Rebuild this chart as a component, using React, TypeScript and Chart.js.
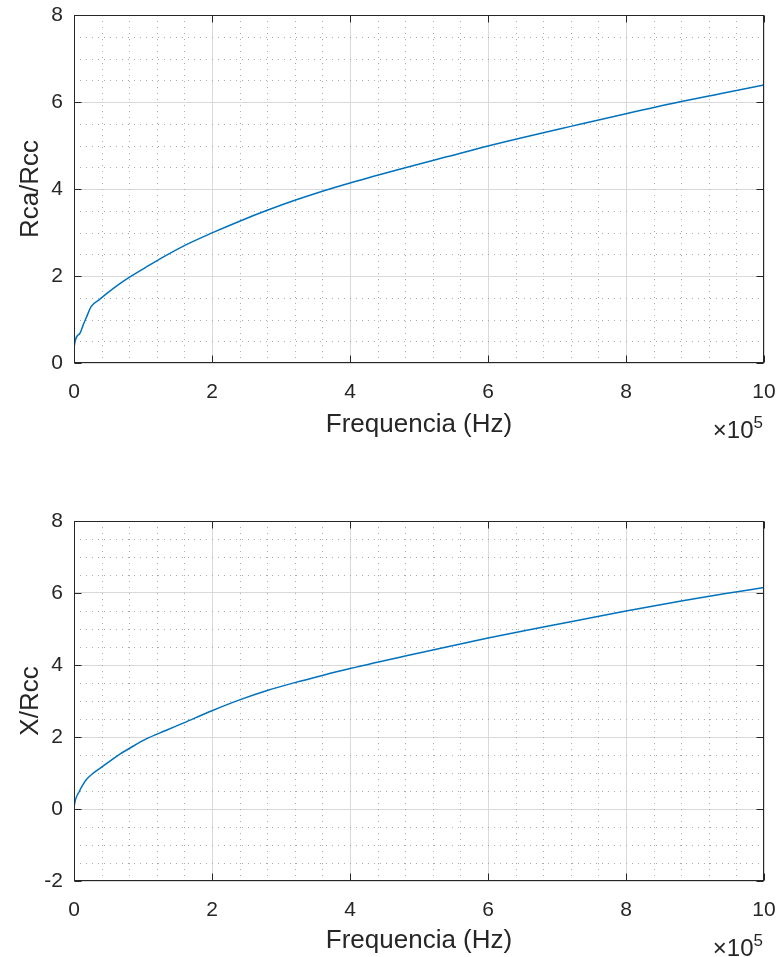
import React, { useEffect, useRef } from "react";
import { Chart, registerables } from "chart.js";

Chart.register(...registerables);

// ---------- data ----------
const FREQ_HZ = [
  0, 500, 8000, 13000, 18000, 25000, 37000, 50000, 66000, 80000, 104000,
  133000, 160000, 200000, 240000, 280000, 320000, 360000, 400000, 480000,
  540000, 600000, 660000, 720000, 800000, 880000, 940000, 1000000,
];
const RCA_RCC = [
  0.15, 0.4, 0.67, 0.86, 1.05, 1.3, 1.46, 1.63, 1.82, 1.97, 2.2, 2.47, 2.7,
  2.99, 3.26, 3.51, 3.74, 3.95, 4.14, 4.49, 4.74, 4.99, 5.22, 5.44, 5.73,
  6.01, 6.2, 6.39,
];
const X_RCC = [
  0, 0.1, 0.5, 0.68, 0.82, 0.95, 1.12, 1.3, 1.52, 1.68, 1.94, 2.18, 2.4, 2.73,
  3.03, 3.29, 3.51, 3.71, 3.9, 4.25, 4.5, 4.75, 4.98, 5.2, 5.5, 5.78, 5.97,
  6.15,
];

const X_LABEL = "Frequencia (Hz)";
const X_EXPONENT = "5";
const X_RANGE = [0, 1000000];
const X_MAJOR = 200000;
const X_MINOR = 40000;

const Y1_LABEL = "Rca/Rcc";
const Y1_RANGE = [0, 8];
const Y2_LABEL = "X/Rcc";
const Y2_RANGE = [-2, 8];
const Y_MAJOR = 2;
const Y_MINOR = 0.5;

// ---------- style ----------
const FONT = '"Liberation Sans", Arial, Helvetica, sans-serif';
const TEXT_COLOR = "#262626";
const AXIS_COLOR = "#262626";
const MAJOR_GRID = "#d9d9d9";
const MINOR_GRID = "#ababab";
const LINE_COLOR = "#0072BD";
const PAGE_W = 780;
const AREA_LEFT = 74;
const AREA_RIGHT = 764;
const TICK_FONT = 21;
const TITLE_FONT = 26;

const matlabAxes = {
  id: "matlabAxes",
  beforeDatasetsDraw(chart: any, _args: any, opts: any) {
    const { ctx, chartArea: a } = chart;
    const x = chart.scales.x;
    const y = chart.scales.y;
    ctx.save();
    ctx.beginPath();
    ctx.rect(a.left, a.top, a.right - a.left, a.bottom - a.top);
    ctx.clip();
    ctx.strokeStyle = MINOR_GRID;
    ctx.lineWidth = 1;
    ctx.setLineDash([1, 5]);
    const nx = Math.round((x.max - x.min) / opts.xMinor);
    const rx = Math.round(opts.xMajor / opts.xMinor);
    for (let i = 0; i <= nx; i++) {
      if (i % rx === 0) continue;
      const px = Math.round(x.getPixelForValue(x.min + i * opts.xMinor)) + 0.5;
      ctx.beginPath();
      ctx.moveTo(px, a.top);
      ctx.lineTo(px, a.bottom);
      ctx.stroke();
    }
    const ny = Math.round((y.max - y.min) / opts.yMinor);
    const ry = Math.round(opts.yMajor / opts.yMinor);
    for (let i = 0; i <= ny; i++) {
      if (i % ry === 0) continue;
      const py = Math.round(y.getPixelForValue(y.min + i * opts.yMinor)) + 0.5;
      ctx.beginPath();
      ctx.moveTo(a.left, py);
      ctx.lineTo(a.right, py);
      ctx.stroke();
    }
    ctx.restore();
  },
  afterDatasetsDraw(chart: any, _args: any, opts: any) {
    const { ctx, chartArea: a } = chart;
    const x = chart.scales.x;
    const y = chart.scales.y;
    const L = Math.round(a.left) + 0.5;
    const R = Math.round(a.right) - 0.5;
    const T = Math.round(a.top) + 0.5;
    const B = Math.round(a.bottom) - 0.5;
    const tl = 7;
    ctx.save();
    ctx.strokeStyle = AXIS_COLOR;
    ctx.lineWidth = 1;
    ctx.setLineDash([]);
    ctx.strokeRect(L, T, R - L, B - T);
    ctx.beginPath();
    x.ticks.forEach((t: any) => {
      const px = Math.round(x.getPixelForValue(t.value)) + 0.5;
      ctx.moveTo(px, B);
      ctx.lineTo(px, B - tl);
      ctx.moveTo(px, T);
      ctx.lineTo(px, T + tl);
    });
    y.ticks.forEach((t: any) => {
      const py = Math.round(y.getPixelForValue(t.value)) + 0.5;
      ctx.moveTo(L, py);
      ctx.lineTo(L + tl, py);
      ctx.moveTo(R, py);
      ctx.lineTo(R - tl, py);
    });
    ctx.stroke();

    // exponent label  ×10^5
    ctx.fillStyle = TEXT_COLOR;
    ctx.textBaseline = "alphabetic";
    ctx.textAlign = "right";
    ctx.font = `17px ${FONT}`;
    const supRight = a.right - 1;
    const wSup = ctx.measureText(opts.exponent).width;
    ctx.fillText(opts.exponent, supRight, a.bottom + 65);
    ctx.font = `24px ${FONT}`;
    ctx.fillText("\u00d710", supRight - wSup, a.bottom + 75);
    ctx.restore();
  },
};

type SubPlotProps = {
  top: number;
  height: number;
  areaTop: number;
  areaBottom: number;
  titleCenter: number;
  yLabel: string;
  yRange: number[];
  values: number[];
};

function SubPlot(p: SubPlotProps) {
  const ref = useRef<HTMLCanvasElement>(null);
  useEffect(() => {
    const canvas = ref.current;
    if (!canvas) return;
    const xAxisHeight = p.top + p.height - p.areaBottom;
    const titleLH = TITLE_FONT * 1.2;
    const titlePadBottom = Math.max(0, p.top + p.height - p.titleCenter - titleLH / 2);
    const chart = new Chart(canvas, {
      type: "line",
      data: {
        datasets: [
          {
            data: FREQ_HZ.map((f, i) => ({ x: f, y: p.values[i] })),
            borderColor: LINE_COLOR,
            borderWidth: 1.5,
            pointRadius: 0,
            cubicInterpolationMode: "monotone",
            fill: false,
          } as any,
        ],
      },
      options: {
        animation: false,
        responsive: false,
        devicePixelRatio: 1,
        events: [],
        layout: {
          padding: {
            left: 0,
            right: PAGE_W - AREA_RIGHT,
            top: p.areaTop - p.top,
            bottom: 0,
          },
        },
        plugins: {
          legend: { display: false },
          tooltip: { enabled: false },
          matlabAxes: {
            xMinor: X_MINOR,
            xMajor: X_MAJOR,
            yMinor: Y_MINOR,
            yMajor: Y_MAJOR,
            exponent: X_EXPONENT,
          },
        } as any,
        scales: {
          x: {
            type: "linear",
            min: X_RANGE[0],
            max: X_RANGE[1],
            ticks: {
              stepSize: X_MAJOR,
              autoSkip: false,
              maxRotation: 0,
              minRotation: 0,
              padding: 17,
              color: TEXT_COLOR,
              font: { family: FONT, size: TICK_FONT },
              callback: (v: any) => String(Math.round(Number(v) / 1e5)),
            },
            grid: { color: MAJOR_GRID, lineWidth: 1, drawTicks: false },
            border: { display: false },
            title: {
              display: true,
              text: X_LABEL,
              color: TEXT_COLOR,
              font: { family: FONT, size: TITLE_FONT },
              padding: { top: 0, bottom: titlePadBottom },
            },
            afterFit: (s: any) => {
              s.height = xAxisHeight;
              s.paddingLeft = 0;
              s.paddingRight = 0;
            },
          },
          y: {
            type: "linear",
            min: p.yRange[0],
            max: p.yRange[1],
            ticks: {
              stepSize: Y_MAJOR,
              padding: 11,
              color: TEXT_COLOR,
              font: { family: FONT, size: TICK_FONT },
              callback: (v: any) => String(v),
            },
            grid: { color: MAJOR_GRID, lineWidth: 1, drawTicks: false },
            border: { display: false },
            title: {
              display: true,
              text: p.yLabel,
              color: TEXT_COLOR,
              font: { family: FONT, size: TITLE_FONT },
              padding: { top: 15, bottom: 0 },
            },
            afterFit: (s: any) => {
              s.width = AREA_LEFT;
              s.paddingTop = 0;
              s.paddingBottom = 0;
            },
          },
        },
      },
      plugins: [matlabAxes as any],
    });
    return () => chart.destroy();
  }, []);
  return (
    <canvas
      ref={ref}
      width={PAGE_W}
      height={p.height}
      style={{
        position: "absolute",
        left: 0,
        top: p.top,
        width: PAGE_W,
        height: p.height,
        display: "block",
      }}
    />
  );
}

export default function App() {
  return (
    <div
      style={{
        position: "absolute",
        left: 0,
        top: 0,
        width: 780,
        height: 957,
        background: "#ffffff",
        overflow: "hidden",
      }}
    >
      <SubPlot
        top={0}
        height={478}
        areaTop={15}
        areaBottom={363}
        titleCenter={425}
        yLabel={Y1_LABEL}
        yRange={Y1_RANGE}
        values={RCA_RCC}
      />
      <SubPlot
        top={478}
        height={479}
        areaTop={521}
        areaBottom={881}
        titleCenter={941}
        yLabel={Y2_LABEL}
        yRange={Y2_RANGE}
        values={X_RCC}
      />
    </div>
  );
}
